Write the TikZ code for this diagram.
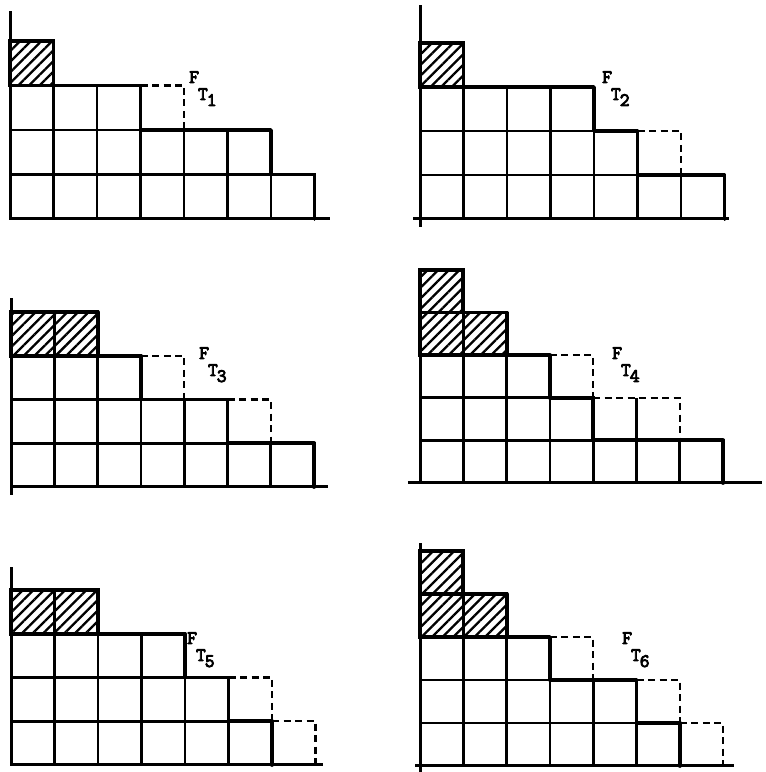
\documentclass[tikz,border=0pt]{standalone}
\usepackage{fontspec}
\newfontfamily\labfont{Latin Modern Mono}[AutoFakeBold=4.5]
\usetikzlibrary{patterns.meta}
\tikzset{
  cell/.style={line width=2.8pt},
  outline/.style={line width=3.8pt, line join=round, line cap=round},
  hatchcell/.style={line width=3.6pt, pattern={Lines[angle=45,distance=7.5pt,line width=2.3pt]}},
  dashline/.style={line width=2.4pt, dash pattern=on 7pt off 4.5pt},
  axisline/.style={line width=3pt},
  lab/.style={anchor=base west, inner sep=0pt, font=\labfont\bfseries\fontsize{19}{19}\selectfont}
}
\newcommand\flab[1]{F\kern-1pt\raisebox{-17pt}{T\kern-1pt\raisebox{-6pt}{#1}}}
\begin{document}
\begin{tikzpicture}[x=1pt,y=1pt]
\useasboundingbox (0,0) rectangle (766,772);
% ---------- Panel 1 ----------
\begin{scope}[xshift=10pt,yshift=553pt,x=43.5pt,y=44.5pt]
  \foreach \r/\n in {0/7,1/6,2/3}{\foreach \c in {1,...,\n}{\draw[cell] (\c-1,\r) rectangle (\c,\r+1);}}
  \draw[hatchcell] (0,3) rectangle (1,4);
  \draw[outline] (0,4) -| (1,3) -| (3,2) -| (6,1) -| (7,0);
  \draw[dashline] (3,3) -| (4,2);
  \draw[axisline] (0,0) -- (0,4.68);
  \draw[axisline] (0,0) -- (7.36,0);
\end{scope}
\node[lab] (l1) at (189,689) {\flab{1}};
% ---------- Panel 2 ----------
\begin{scope}[xshift=420pt,yshift=553pt,x=43.5pt,y=44pt]
  \foreach \r/\n in {0/7,1/5,2/4}{\foreach \c in {1,...,\n}{\draw[cell] (\c-1,\r) rectangle (\c,\r+1);}}
  \draw[hatchcell] (0,3) rectangle (1,4);
  \draw[outline] (0,4) -| (1,3) -| (4,2) -| (5,1) -| (7,0);
  \draw[dashline] (5,2) -| (6,1);
  \draw[axisline] (0,-0.18) -- (0,4.86);
  \draw[axisline] (-0.16,0) -- (7.1,0);
\end{scope}
\node[lab] (l2) at (602,689) {\flab{2}};
% ---------- Panel 3 ----------
\begin{scope}[xshift=11pt,yshift=285pt,x=43.3pt,y=43.75pt]
  \foreach \r/\n in {0/7,1/5,2/3}{\foreach \c in {1,...,\n}{\draw[cell] (\c-1,\r) rectangle (\c,\r+1);}}
  \draw[hatchcell] (0,3) rectangle (1,4);
  \draw[hatchcell] (1,3) rectangle (2,4);
  \draw[outline] (0,4) -| (2,3) -| (3,2) -| (5,1) -| (7,0);
  \draw[dashline] (3,3) -| (4,2);
  \draw[dashline] (5,2) -| (6,1);
  \draw[axisline] (0,-0.18) -- (0,4.32);
  \draw[axisline] (0,0) -- (7.33,0);
\end{scope}
\node[lab] (l3) at (199,413) {\flab{3}};
% ---------- Panel 4 ----------
\begin{scope}[xshift=420pt,yshift=289pt,x=43.3pt,y=42.6pt]
  \foreach \r/\n in {0/7,1/4,2/3}{\foreach \c in {1,...,\n}{\draw[cell] (\c-1,\r) rectangle (\c,\r+1);}}
  \draw[hatchcell] (0,3) rectangle (1,4);
  \draw[hatchcell] (1,3) rectangle (2,4);
  \draw[hatchcell] (0,4) rectangle (1,5);
  \draw[outline] (0,5) -| (1,4) -| (2,3) -| (3,2) -| (4,1) -| (7,0);
  \draw[cell] (5,1) -- (5,2);
  \draw[dashline] (3,3) -| (4,2);
  \draw[dashline] (4,2) -| (6,1);
  \draw[axisline] (0,0) -- (0,5);
  \draw[axisline] (-0.28,0) -- (7.9,0);
\end{scope}
\node[lab] (l4) at (612,413) {\flab{4}};
% ---------- Panel 5 ----------
\begin{scope}[xshift=11pt,yshift=7pt,x=43.5pt,y=43.75pt]
  \foreach \r/\n in {0/6,1/5,2/4}{\foreach \c in {1,...,\n}{\draw[cell] (\c-1,\r) rectangle (\c,\r+1);}}
  \draw[hatchcell] (0,3) rectangle (1,4);
  \draw[hatchcell] (1,3) rectangle (2,4);
  \draw[outline] (0,4) -| (2,3) -| (4,2) -| (5,1) -| (6,0);
  \draw[dashline] (5,2) -| (6,1);
  \draw[dashline] (6,1) -| (7,0);
  \draw[axisline] (0,0) -- (0,4.53);
  \draw[axisline] (0,0) -- (7.17,0);
\end{scope}
\node[lab] (l5) at (187,128) {\flab{5}};
% ---------- Panel 6 ----------
\begin{scope}[xshift=420pt,yshift=6pt,x=43.3pt,y=43pt]
  \foreach \r/\n in {0/6,1/5,2/3}{\foreach \c in {1,...,\n}{\draw[cell] (\c-1,\r) rectangle (\c,\r+1);}}
  \draw[hatchcell] (0,3) rectangle (1,4);
  \draw[hatchcell] (1,3) rectangle (2,4);
  \draw[hatchcell] (0,4) rectangle (1,5);
  \draw[outline] (0,5) -| (1,4) -| (2,3) -| (3,2) -| (5,1) -| (6,0);
  \draw[dashline] (3,3) -| (4,2);
  \draw[dashline] (5,2) -| (6,1);
  \draw[dashline] (6,1) -| (7,0);
  \draw[axisline] (0,-0.14) -- (0,5.19);
  \draw[axisline] (-0.11,0) -- (7.26,0);
\end{scope}
\node[lab] (l6) at (622,128) {\flab{6}};
\end{tikzpicture}
\end{document}
